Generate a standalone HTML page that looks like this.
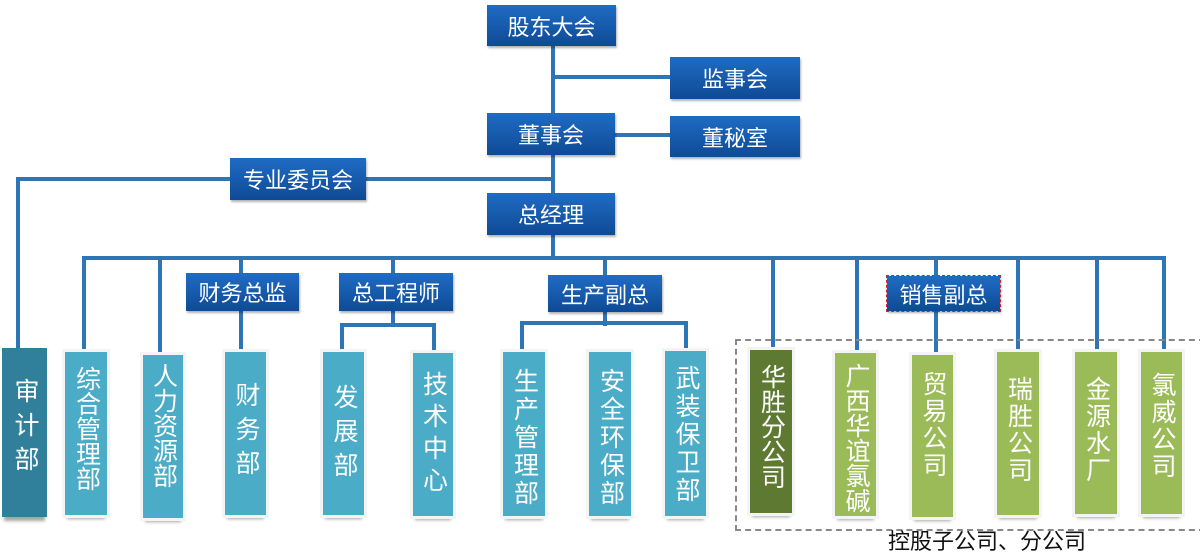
<!DOCTYPE html>
<html><head><meta charset="utf-8"><style>
body{margin:0;width:1200px;height:553px;background:#fff;position:relative;overflow:hidden;font-family:"Liberation Sans","Noto Sans CJK SC",sans-serif}
.l{position:absolute;background:#2e75b6}
.b{position:absolute;background:linear-gradient(#1f6cc4,#0f4a95);color:#fff;font-size:22px;display:flex;align-items:center;justify-content:center;box-shadow:1px 2px 2px rgba(0,0,0,.3)}
.v{position:absolute;color:#fff;font-size:25px;line-height:1;writing-mode:vertical-rl;text-orientation:upright;display:flex;justify-content:flex-start;align-items:center;box-sizing:border-box;outline:3px solid #f4f4f4;box-shadow:0 6px 3px -2px rgba(0,0,0,.35)}
.t{background:#4aacc6}
.g{background:#9bbb59}
</style></head><body>
<!-- lines -->
<div class="l" style="left:551px;top:44px;width:4px;height:214px"></div>
<div class="l" style="left:553px;top:75px;width:117px;height:4px"></div>
<div class="l" style="left:614px;top:133px;width:56px;height:4px"></div>
<div class="l" style="left:366px;top:177px;width:187px;height:4px"></div>
<div class="l" style="left:16px;top:177px;width:214px;height:4px"></div>
<div class="l" style="left:16px;top:177px;width:4px;height:171px"></div>
<div class="l" style="left:82px;top:256px;width:1084px;height:4px"></div>
<div class="l" style="left:82px;top:256px;width:4px;height:96px"></div>
<div class="l" style="left:158px;top:256px;width:4px;height:99px"></div>
<div class="l" style="left:239px;top:256px;width:4px;height:96px"></div>
<div class="l" style="left:391px;top:256px;width:4px;height:70px"></div>
<div class="l" style="left:340px;top:323px;width:96px;height:4px"></div>
<div class="l" style="left:340px;top:323px;width:4px;height:29px"></div>
<div class="l" style="left:432px;top:323px;width:4px;height:30px"></div>
<div class="l" style="left:603px;top:256px;width:4px;height:70px"></div>
<div class="l" style="left:520px;top:321px;width:168px;height:4px"></div>
<div class="l" style="left:520px;top:321px;width:4px;height:31px"></div>
<div class="l" style="left:684px;top:321px;width:4px;height:30px"></div>
<div class="l" style="left:771px;top:256px;width:4px;height:96px"></div>
<div class="l" style="left:855px;top:256px;width:4px;height:96px"></div>
<div class="l" style="left:934px;top:256px;width:4px;height:96px"></div>
<div class="l" style="left:1016px;top:256px;width:4px;height:96px"></div>
<div class="l" style="left:1095px;top:256px;width:4px;height:96px"></div>
<div class="l" style="left:1162px;top:256px;width:4px;height:96px"></div>
<!-- dashed -->
<div style="position:absolute;left:735px;top:339px;width:470px;height:192px;border:2px dashed #888;box-sizing:border-box"></div>
<!-- top boxes -->
<div class="b" style="left:487px;top:5px;width:129px;height:41px">股东大会</div>
<div class="b" style="left:670px;top:57px;width:130px;height:42px">监事会</div>
<div class="b" style="left:487px;top:113px;width:128px;height:42px">董事会</div>
<div class="b" style="left:670px;top:116px;width:130px;height:41px">董秘室</div>
<div class="b" style="left:230px;top:158px;width:136px;height:42px">专业委员会</div>
<div class="b" style="left:487px;top:193px;width:128px;height:42px">总经理</div>
<div class="b" style="left:186px;top:273px;width:113px;height:38px">财务总监</div>
<div class="b" style="left:339px;top:273px;width:114px;height:38px">总工程师</div>
<div class="b" style="left:548px;top:275px;width:114px;height:37px">生产副总</div>
<div class="b" style="left:887px;top:276px;width:113px;height:35px;outline:1px dashed #d02030">销售副总</div>
<!-- bottom -->
<div class="v" style="left:2px;top:348px;width:45px;height:169px;background:#31809b;outline:none;padding-top:30px;letter-spacing:9px">审计部</div>
<div class="v t" style="left:65px;top:352px;width:42px;height:163px;padding-top:14px">综合管理部</div>
<div class="v t" style="left:143px;top:355px;width:40px;height:163px;padding-top:8px">人力资源部</div>
<div class="v t" style="left:225px;top:352px;width:41px;height:163px;padding-top:30px;letter-spacing:9px">财务部</div>
<div class="v t" style="left:323px;top:352px;width:41px;height:163px;padding-top:32px;letter-spacing:9px">发展部</div>
<div class="v t" style="left:413px;top:353px;width:40px;height:163px;padding-top:18px;letter-spacing:7px">技术中心</div>
<div class="v t" style="left:503px;top:352px;width:42px;height:164px;padding-top:16px;letter-spacing:3px">生产管理部</div>
<div class="v t" style="left:589px;top:352px;width:42px;height:164px;padding-top:16px;letter-spacing:3px">安全环保部</div>
<div class="v t" style="left:665px;top:351px;width:41px;height:165px;padding-top:14px;letter-spacing:3px">武装保卫部</div>
<div class="v" style="left:750px;top:350px;width:42px;height:163px;background:#5e7a32;padding-top:14px">华胜分公司</div>
<div class="v g" style="left:835px;top:353px;width:41px;height:163px;padding-top:10px">广西华谊氯碱</div>
<div class="v g" style="left:912px;top:355px;width:41px;height:162px;padding-top:16px;letter-spacing:2px">贸易公司</div>
<div class="v g" style="left:997px;top:352px;width:42px;height:163px;padding-top:24px;letter-spacing:2px">瑞胜公司</div>
<div class="v g" style="left:1075px;top:352px;width:42px;height:162px;padding-top:24px;letter-spacing:2px">金源水厂</div>
<div class="v g" style="left:1141px;top:352px;width:41px;height:162px;padding-top:20px;letter-spacing:2px">氯威公司</div>
<div style="position:absolute;left:888px;top:528px;font-size:22px;color:#111;white-space:nowrap;line-height:28px">控股子公司、分公司</div>
</body></html>
